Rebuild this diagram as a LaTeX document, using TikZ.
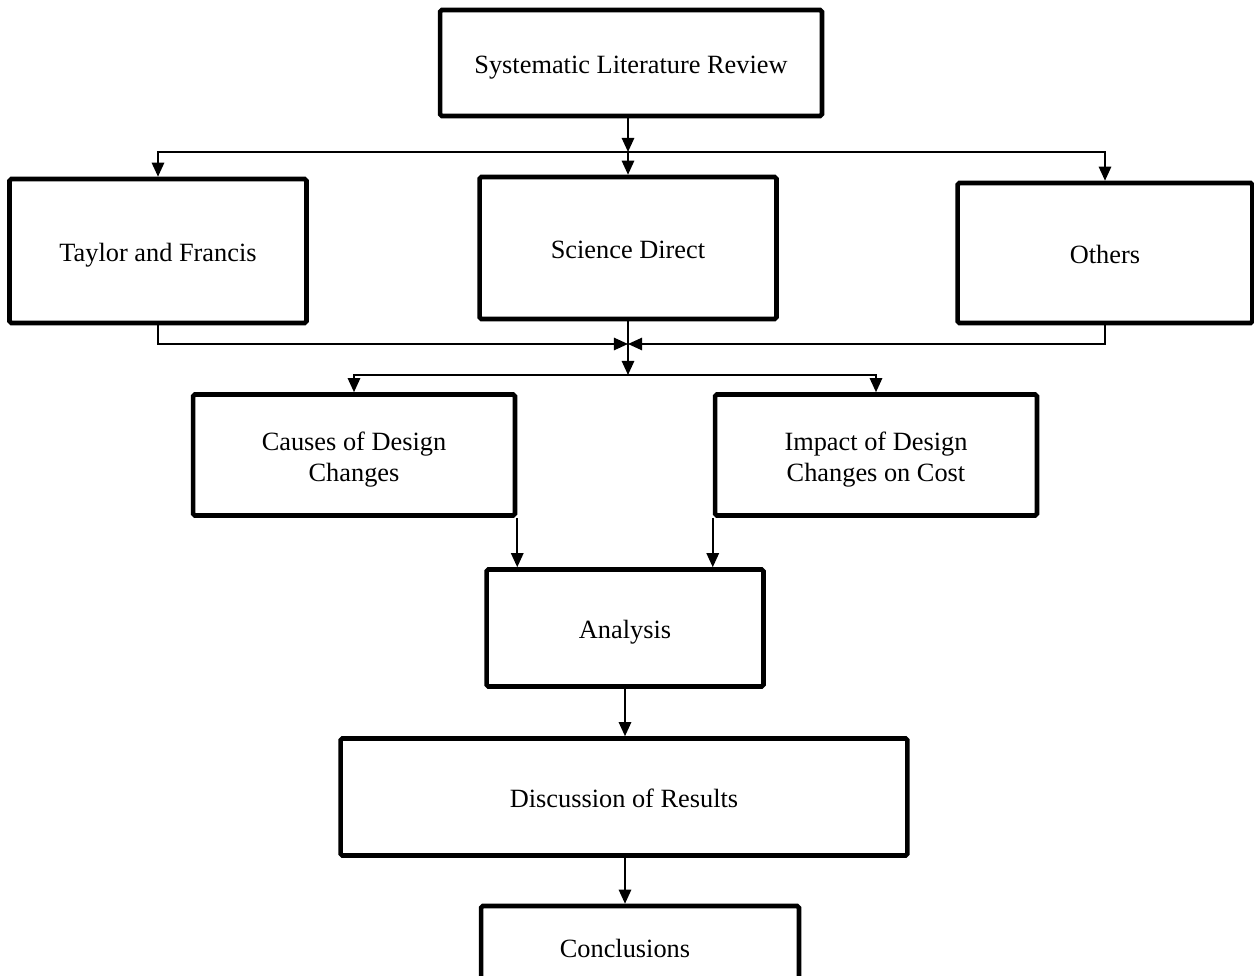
\documentclass[tikz,border=0pt]{standalone}
\usepackage{fontspec}
\setmainfont{Liberation Serif}
\usetikzlibrary{arrows.meta}

\tikzset{
    block/.style={draw, line width=2.6pt, rounded corners=1pt, align=center,
                  font=\fontsize{15}{17.5}\selectfont},
    oneline/.style={block, text height=12pt, text depth=0pt},
    twoline/.style={block, text height=33pt, text depth=3pt},
    link/.style={line width=1.1pt, -{Triangle[width=7pt, length=8pt]}},
}

\begin{document}
\begin{tikzpicture}[x=0.02cm, y=-0.02cm]
    \useasboundingbox (0, 0) rectangle (1254, 976);

    \path (631, 63)   node[oneline, minimum width=7.64cm, minimum height=2.12cm] (slr)     {Systematic Literature Review};
    \path (158, 251)  node[oneline, minimum width=5.94cm, minimum height=2.88cm] (taylor)  {Taylor and Francis};
    \path (628, 248)  node[oneline, minimum width=5.94cm, minimum height=2.84cm] (science) {Science Direct};
    \path (1105, 253) node[oneline, minimum width=5.90cm, minimum height=2.80cm] (others)  {Others};
    \path (354, 455)  node[twoline, minimum width=6.44cm, minimum height=2.42cm] (causes)  {Causes of Design\\Changes};
    \path (876, 455)  node[twoline, minimum width=6.44cm, minimum height=2.42cm] (impact)  {Impact of Design\\Changes on Cost};
    \path (625, 628)  node[oneline, minimum width=5.54cm, minimum height=2.34cm] (analysis) {Analysis};
    \path (624, 797)  node[oneline, minimum width=11.34cm, minimum height=2.34cm] (discuss) {Discussion of Results};
    \path (640, 952)  node[block, minimum width=6.36cm, minimum height=1.84cm, text height=10.5pt, text depth=4pt] (concl) {\hspace*{-0.6cm}Conclusions};

    \coordinate (fork)  at (628, 152);
    \coordinate (merge) at (628, 344);
    \coordinate (split) at (628, 375);

    \draw[link] (fork |- slr.south) -- (fork);
    \draw[link] (fork) -- (science.north);
    \draw[link] (fork) -| (taylor.north);
    \draw[link] (fork) -| (others.north);

    \draw[link] (taylor.south) |- (merge);
    \draw[link] (others.south) |- (merge);
    \draw[link] (science.south) -- (split);
    \draw[link] (split) -| (causes.north);
    \draw[link] (split) -| (impact.north);

    \draw[link] (causes.south east) -- (causes.south east |- analysis.north);
    \draw[link] (impact.south west) -- (impact.south west |- analysis.north);
    \draw[link] (analysis.south) -- (analysis.south |- discuss.north);
    \draw[link] (analysis.south |- discuss.south) -- (analysis.south |- concl.north);
\end{tikzpicture}
\end{document}
